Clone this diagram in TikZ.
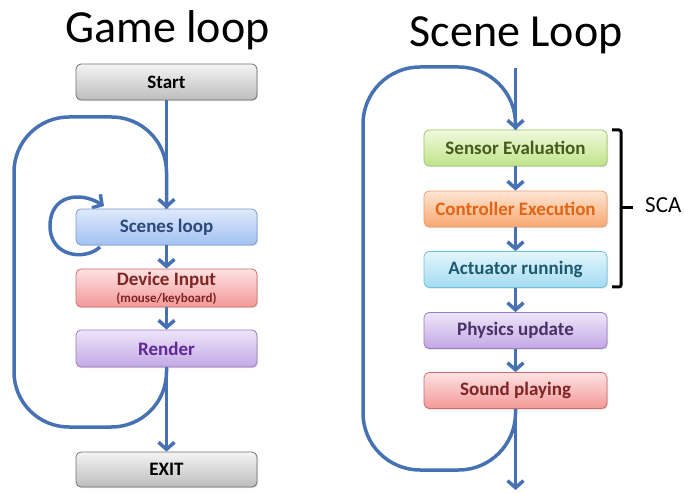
\documentclass[tikz,border=0pt]{standalone}
\usepackage{fontspec}
\setmainfont{Carlito}
\usetikzlibrary{arrows.meta,backgrounds,shadows}
\definecolor{loopblue}{RGB}{70,114,180}
\definecolor{grT}{HTML}{F4F4F4}\definecolor{grB}{HTML}{BDBDBD}\definecolor{grD}{HTML}{707070}
\definecolor{blT}{HTML}{DFE9FB}\definecolor{blB}{HTML}{A3C1F3}\definecolor{blD}{HTML}{7A9BD6}\definecolor{blX}{RGB}{44,72,122}
\definecolor{rdT}{HTML}{FDE2E2}\definecolor{rdB}{HTML}{F39898}\definecolor{rdD}{HTML}{CF6E6E}\definecolor{rdX}{RGB}{128,36,36}
\definecolor{puT}{HTML}{EEE5F8}\definecolor{puB}{HTML}{C2A8E5}\definecolor{puD}{HTML}{9A7CC2}\definecolor{puX}{RGB}{96,40,150}\definecolor{puY}{RGB}{70,50,100}
\definecolor{gnT}{HTML}{F0F9DD}\definecolor{gnB}{HTML}{C0E48A}\definecolor{gnD}{HTML}{9BC860}\definecolor{gnX}{RGB}{70,90,30}
\definecolor{orT}{HTML}{FDE5D3}\definecolor{orB}{HTML}{F9A870}\definecolor{orD}{HTML}{E8A070}\definecolor{orX}{RGB}{226,100,20}
\definecolor{cyT}{HTML}{E4F6FC}\definecolor{cyB}{HTML}{A2DBF2}\definecolor{cyD}{HTML}{6FC0DC}\definecolor{cyX}{RGB}{30,90,110}
\tikzset{
  box/.style={rounded corners=5pt, minimum height=36pt, inner sep=0pt, line width=0.8pt,
    font=\bfseries\fontsize{19}{21}\selectfont,
    drop shadow={opacity=0.25, shadow xshift=1pt, shadow yshift=-1.2pt}},
  lbox/.style={box, minimum width=181pt},
  rbox/.style={box, minimum width=183pt},
  grayb/.style={draw=grD, top color=grT, bottom color=grB, text=black},
  blueb/.style={draw=blD, top color=blT, bottom color=blB, text=blX},
  redb/.style={draw=rdD, top color=rdT, bottom color=rdB, text=rdX},
  purpb/.style={draw=puD, top color=puT, bottom color=puB},
  greenb/.style={draw=gnD, top color=gnT, bottom color=gnB, text=gnX},
  orangeb/.style={draw=orD, top color=orT, bottom color=orB, text=orX},
  cyanb/.style={draw=cyD, top color=cyT, bottom color=cyB, text=cyX},
  flow/.style={draw=loopblue, line width=3.5pt, -{Straight Barb[length=7pt,width=16pt]}},
  loopline/.style={draw=loopblue, line width=3.5pt},
  title/.style={font=\fontsize{46}{50}\selectfont, anchor=base},
}
\begin{document}
\begin{tikzpicture}[x=1pt,y=1pt]
\useasboundingbox (0,0) rectangle (685,493);
% titles
\node[title] (t1) at (167.5,450) {Game loop};
\node[title] (t2) at (516,446) {Scene Loop};
% left column
\node[lbox, grayb] (st) at (166.5,411) {Start};
\node[lbox, blueb] (sl) at (166.5,266) {Scenes loop};
\node[lbox, redb, minimum height=38pt, align=center] (di) at (166.5,205)
  {\rule{0pt}{15pt}Device Input\\[-4pt]{\fontsize{13}{14}\selectfont(mouse/keyboard)}};
\node[lbox, purpb, minimum height=37pt, text=puX] (rd) at (166.5,144.5) {Render};
\node[lbox, grayb, minimum height=35pt] (ex) at (166.5,23.5) {EXIT};
% right column
\node[rbox, greenb] (se) at (515.5,345) {Sensor Evaluation};
\node[rbox, orangeb] (ce) at (515.5,284) {Controller Execution};
\node[rbox, cyanb] (ar) at (515.5,223.5) {Actuator running};
\node[rbox, purpb, text=puY] (ph) at (515.5,162.5) {Physics update};
\node[rbox, redb] (so) at (515.5,102.5) {Sound playing};
% coordinates
\coordinate (lb1) at (166.5,66);
\coordinate (lb2) at (14,66);
\coordinate (lb3) at (14,376);
\coordinate (lb4) at (166.5,376);
\coordinate (rtop) at (515.5,425);
\coordinate (rend) at (515.5,3);
\coordinate (rb1) at (515.5,23);
\coordinate (rb2) at (363,23);
\coordinate (rb3) at (363,426);
\coordinate (rb4) at (515.5,426);
\coordinate (sls) at (100,246);
\coordinate (sle) at (104,287);
% left connectors
\draw[flow] (st.south) -- (sl.north);
\draw[flow] (sl.south) -- (di.north);
\draw[flow] (di.south) -- (rd.north);
\draw[flow] (rd.south) -- (ex.north);
\draw[loopline, rounded corners=55pt] (rd.south) -- (lb1) -- (lb2) -- (lb3) -- (lb4) -- (sl.north);
\begin{scope}[on background layer]
\draw[flow] (sls) .. controls (85,232) and (50,236) .. (50,267) .. controls (50,298) and (80,302) .. (sle);
\end{scope}
% right connectors
\draw[flow] (rtop) -- (se.north);
\draw[flow] (se.south) -- (ce.north);
\draw[flow] (ce.south) -- (ar.north);
\draw[flow] (ar.south) -- (ph.north);
\draw[flow] (ph.south) -- (so.north);
\draw[flow] (so.south) -- (rend);
\draw[loopline, rounded corners=57pt] (so.south) -- (rb1) -- (rb2) -- (rb3) -- (rb4) -- (se.north);
% brace
\draw[line width=3pt, rounded corners=2pt] (612,363) -- (621,363) -- (621,206) -- (612,206);
\draw[line width=3pt] (621,285) -- (633,285);
\node[anchor=base west, inner sep=0pt, font=\fontsize{23}{26}\selectfont] (sca) at (645,280) {SCA};
\end{tikzpicture}
\end{document}
